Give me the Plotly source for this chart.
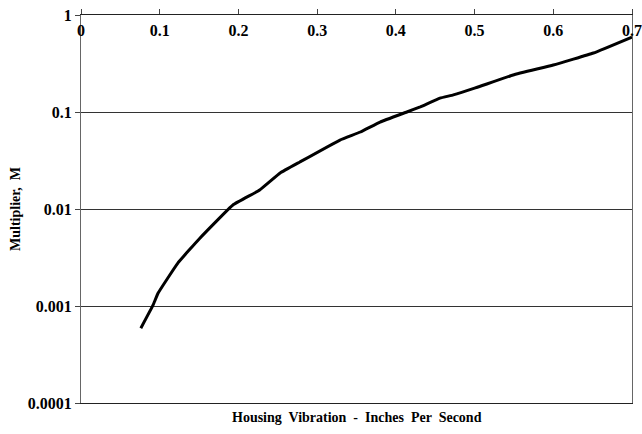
import plotly.graph_objects as go

vibration = [0.076, 0.0915, 0.098, 0.123, 0.151, 0.193, 0.227, 0.253, 0.278, 0.329,
             0.355, 0.380, 0.414, 0.431, 0.456, 0.473, 0.501, 0.549, 0.600, 0.651, 0.700]
multiplier = [5.9e-4, 1.02e-3, 1.36e-3, 2.77e-3, 5.0e-3, 0.011, 0.0157, 0.0235, 0.0305, 0.0514,
              0.0622, 0.0788, 0.100, 0.113, 0.139, 0.150, 0.177, 0.241, 0.305, 0.406, 0.593]

x_ticks = [0, 0.1, 0.2, 0.3, 0.4, 0.5, 0.6, 0.7]
x_ticktext = ["0", "0.1", "0.2", "0.3", "0.4", "0.5", "0.6", "0.7"]
y_ticks = [1, 0.1, 0.01, 0.001, 0.0001]
y_ticktext = ["1", "0.1", "0.01", "0.001", "0.0001"]

font_family = "Liberation Serif"

fig = go.Figure()
fig.add_trace(go.Scatter(x=vibration, y=multiplier, mode="lines",
                         line=dict(color="black", width=3, shape="spline", smoothing=0.3),
                         showlegend=False))

fig.update_layout(
    width=642, height=434,
    margin=dict(l=81, r=10, t=15, b=31, autoexpand=False),
    paper_bgcolor="white", plot_bgcolor="white",
    font=dict(family=font_family, color="black"),
    xaxis=dict(
        range=[0, 0.7], side="top", automargin=False,
        tickvals=x_ticks, ticktext=x_ticktext,
        ticklabelposition="inside", ticklabeloverflow="allow",
        ticklabelstandoff=10,
        ticks="outside", ticklen=5, tickcolor="#444", tickwidth=1,
        showgrid=False, zeroline=False,
        showline=True, linecolor="#222", linewidth=1, mirror=True,
        tickfont=dict(family=font_family, size=16, color="black", weight="bold"),
    ),
    yaxis=dict(
        type="log", range=[-4, 0], automargin=False,
        tickvals=y_ticks, ticktext=y_ticktext,
        ticks="outside", ticklen=5, tickcolor="#444", tickwidth=1,
        showgrid=True, gridcolor="#333", gridwidth=1,
        zeroline=False,
        showline=True, linecolor="#666", linewidth=1, mirror=True,
        tickfont=dict(family=font_family, size=16, color="black", weight="bold"),
        title=dict(text="Multiplier,  M", standoff=3,
                   font=dict(family=font_family, size=14, color="black", weight="bold")),
    ),
    annotations=[dict(
        text="Housing  Vibration  -  Inches  Per  Second",
        xref="paper", yref="paper", x=0.5, y=0, yshift=-5,
        xanchor="center", yanchor="top", showarrow=False,
        font=dict(family=font_family, size=14, color="black", weight="bold"),
    )],
)

fig.write_html("out.html", config={"displayModeBar": False},
               post_script="document.body.style.margin='0px';")
